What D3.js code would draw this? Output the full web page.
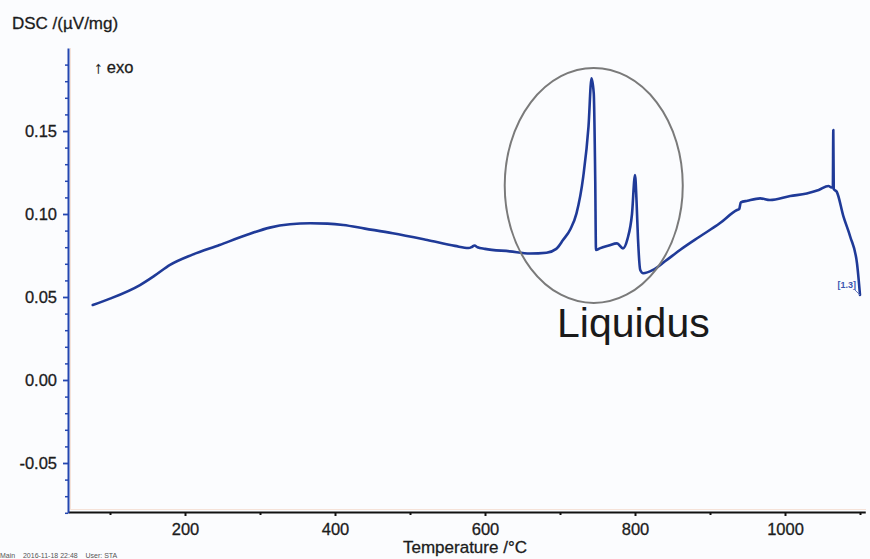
<!DOCTYPE html>
<html>
<head>
<meta charset="utf-8">
<script src="https://cdn.jsdelivr.net/npm/d3@7"></script>
<style>
  html, body { margin: 0; padding: 0; background: #fbfcfe; }
  svg { display: block; }
  text { font-family: "Liberation Sans", Arial, sans-serif; }
</style>
</head>
<body>
<div id="chart"></div>
<script>
// DSC heating trace: temperature (°C) and signal (µV/mg)
const temperature = [
  77, 100, 140, 160, 180, 210, 246, 280, 313, 340, 367, 390, 411, 440, 477,
  523, 560, 578, 583, 586, 590, 600, 633, 660, 682, 695, 704, 714, 722, 731,
  738, 742, 745, 747, 748, 753, 765, 776, 784, 790, 796, 800, 802, 804, 807,
  811, 824, 840, 860, 886, 913, 936, 939, 941, 950, 967, 980, 1007, 1029, 1045,
  1058, 1062, 1063.8, 1064.4, 1065, 1069, 1078, 1087, 1096, 1100
];
const dsc = [
  0.0452, 0.0490, 0.0572, 0.0630, 0.0693, 0.0755, 0.0813, 0.0870, 0.0918, 0.0938, 0.0944, 0.0942, 0.0934, 0.0912, 0.0884,
  0.0843, 0.0808, 0.0795, 0.0803, 0.0810, 0.0800, 0.0790, 0.0775, 0.0762, 0.0767, 0.0790, 0.0843, 0.0910, 0.1004, 0.1225,
  0.1526, 0.1817, 0.1727, 0.1200, 0.0783, 0.0793, 0.0810, 0.0823, 0.0793, 0.0850, 0.1000, 0.1235, 0.1084, 0.0850, 0.0663,
  0.0643, 0.0663, 0.0715, 0.0783, 0.0863, 0.0944, 0.1024, 0.1030, 0.1070, 0.1080, 0.1094, 0.1084, 0.1108, 0.1124, 0.1145,
  0.1169, 0.1160, 0.1165, 0.1506, 0.1150, 0.1134, 0.0984, 0.0863, 0.0703, 0.0512
];

// Axis ticks
const xMajorTicks = [200, 400, 600, 800, 1000];
const xMinorTicks = [100, 300, 500, 700, 900, 1100];
const yMajorTicks = [-0.05, 0.00, 0.05, 0.10, 0.15];
const yMinorTicks = [-0.08, -0.07, -0.06, -0.04, -0.03, -0.02, -0.01, 0.01, 0.02, 0.03, 0.04,
                     0.06, 0.07, 0.08, 0.09, 0.11, 0.12, 0.13, 0.14, 0.16, 0.17, 0.18, 0.19];

// Liquidus region annotation (data units)
const liquidusCenter = [745, 0.1172];
const liquidusRadius = [118.7, 0.0708];
const liquidusLabel = "Liquidus";
const segmentLabel = "[1.3]";

const W = 870, H = 559;
const svg = d3.select("#chart").append("svg").attr("width", W).attr("height", H);

const x = d3.scaleLinear().domain([44, 1107]).range([68, 865.25]);
const y = d3.scaleLinear().domain([-0.08, 0.2]).range([512.8, 48]);

const blue = "#1f3a98";
const axisBlue = "#2446b0";
const ink = "#1c1c1c";

// faint frame fringe along the axes
svg.append("line").attr("x1", 70.5).attr("x2", 70.5).attr("y1", 48).attr("y2", 510)
  .attr("stroke", "#f5e2d8").attr("stroke-width", 1);
svg.append("line").attr("x1", 70).attr("x2", 866).attr("y1", 509.5).attr("y2", 509.5)
  .attr("stroke", "#f5e2d8").attr("stroke-width", 1);

function styleLabels(g) {
  g.selectAll(".tick text").attr("font-size", 16.5).attr("fill", ink)
    .attr("stroke", ink).attr("stroke-width", 0.3)
    .attr("font-family", "'Liberation Sans', Arial, sans-serif");
}

// X axis
const gxMinor = svg.append("g").attr("transform", "translate(0,512)")
  .call(d3.axisBottom(x).tickValues(xMinorTicks).tickSize(3).tickFormat(""));
gxMinor.select(".domain").remove();
gxMinor.selectAll(".tick line").attr("stroke", "#111").attr("stroke-width", 2);

const gx = svg.append("g").attr("transform", "translate(0,512)")
  .call(d3.axisBottom(x).tickValues(xMajorTicks).tickSize(4).tickPadding(7.6)
    .tickSizeOuter(0).tickFormat(d3.format("d")));
gx.select(".domain").attr("stroke", "#111").attr("stroke-width", 2.2);
gx.selectAll(".tick line").attr("stroke", "#111").attr("stroke-width", 2);
styleLabels(gx);

// Y axis
const gyMinor = svg.append("g").attr("transform", "translate(68,0)")
  .call(d3.axisLeft(y).tickValues(yMinorTicks).tickSize(3).tickFormat(""));
gyMinor.select(".domain").remove();
gyMinor.selectAll(".tick line").attr("stroke", axisBlue).attr("stroke-width", 1.5);

const fmtY = v => d3.format(".2f")(v).replace("\u2212", "-");
const gy = svg.append("g").attr("transform", "translate(68,0)")
  .call(d3.axisLeft(y).tickValues(yMajorTicks).tickSize(5).tickPadding(6)
    .tickSizeOuter(0).tickFormat(fmtY));
gy.select(".domain").attr("stroke", axisBlue).attr("stroke-width", 2);
gy.selectAll(".tick line").attr("stroke", axisBlue).attr("stroke-width", 1.8);
styleLabels(gy);

// Axis titles
svg.append("text").attr("x", 12).attr("y", 29).attr("font-size", 17).attr("fill", ink)
  .attr("stroke", ink).attr("stroke-width", 0.3)
  .text("DSC /(µV/mg)");
svg.append("text").attr("x", 403).attr("y", 553).attr("font-size", 17).attr("fill", ink)
  .attr("stroke", ink).attr("stroke-width", 0.3)
  .text("Temperature /°C");
svg.append("text").attr("x", 94).attr("y", 73).attr("font-size", 16.5).attr("fill", ink)
  .attr("stroke", ink).attr("stroke-width", 0.3)
  .text("↑ exo");

// Footer
svg.append("text").attr("x", 0).attr("y", 557.5).attr("font-size", 7).attr("fill", "#555")
  .attr("xml:space", "preserve")
  .text("Main    2016-11-18 22:48    User: STA");

// DSC curve
const pts = temperature.map((t, i) => [t, dsc[i]]);
const line = d3.line().x(d => x(d[0])).y(d => y(d[1])).curve(d3.curveMonotoneX);
svg.append("path").datum(pts).attr("d", line)
  .attr("fill", "none").attr("stroke", blue).attr("stroke-width", 2.6)
  .attr("stroke-linejoin", "round").attr("stroke-linecap", "round");

// Segment label near the end of the trace
const last = pts[pts.length - 1];
svg.append("text").attr("x", x(1070)).attr("y", y(0.0554)).attr("font-size", 9)
  .attr("font-weight", "bold").attr("fill", "#3a55b0").text(segmentLabel);
svg.append("line").attr("x1", x(1092)).attr("y1", y(0.0548))
  .attr("x2", x(last[0])).attr("y2", y(last[1]))
  .attr("stroke", "#6677bb").attr("stroke-width", 1);

// Liquidus ellipse and label
const cx = x(liquidusCenter[0]), cy = y(liquidusCenter[1]);
const rx = x(liquidusCenter[0] + liquidusRadius[0]) - cx;
const ry = cy - y(liquidusCenter[1] + liquidusRadius[1]);
svg.append("ellipse").attr("cx", cx).attr("cy", cy).attr("rx", rx).attr("ry", ry)
  .attr("fill", "none").attr("stroke", "#7a7a7a").attr("stroke-width", 2);
svg.append("text").attr("x", x(696)).attr("y", y(0.0259)).attr("font-size", 41)
  .attr("fill", "#1a1a1a").text(liquidusLabel);
</script>
</body>
</html>
